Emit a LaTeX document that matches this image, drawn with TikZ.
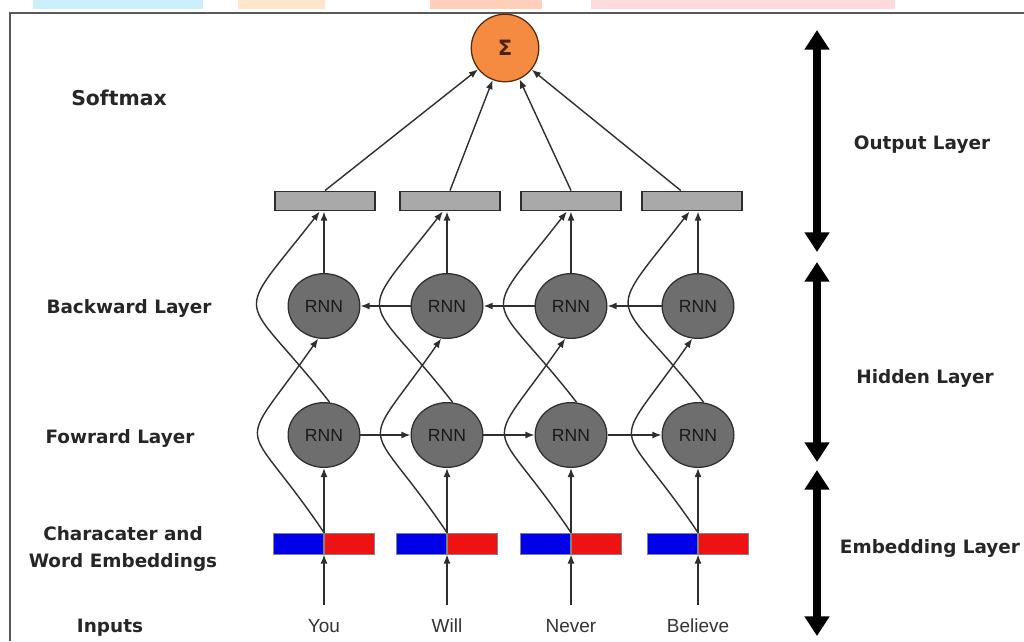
\documentclass[tikz,border=0pt]{standalone}
\usepackage{fontspec}
\setmainfont{Liberation Sans}
\newfontfamily\labelfont{DejaVu Sans}
\usetikzlibrary{shapes.geometric, arrows.meta}

\definecolor{rnngray}{HTML}{6E6E6E}
\definecolor{edgegray}{HTML}{2E2E2E}
\definecolor{hidgray}{HTML}{A9A9A9}
\definecolor{sigorange}{HTML}{F58B40}
\definecolor{sigedge}{HTML}{5A2A0C}
\definecolor{embblue}{HTML}{0000E8}
\definecolor{embred}{HTML}{EE1212}

\tikzset{
  rnn/.style={ellipse, draw=edgegray, fill=rnngray, line width=0.9pt, minimum width=51pt, minimum height=46pt, inner sep=0pt, font=\fontsize{12.5}{15}\selectfont, text=black!90},
  sig/.style={circle, draw=sigedge, fill=sigorange, line width=0.9pt, minimum size=48pt, inner sep=0pt, font=\labelfont\bfseries\fontsize{15}{18}\selectfont, text=sigedge!80!black},
  hid/.style={rectangle, draw=edgegray, fill=hidgray, line width=0.9pt, minimum width=71pt, minimum height=14pt, inner sep=0pt},
  emb/.style={rectangle, draw=edgegray!60, line width=0.5pt, minimum width=35.5pt, minimum height=15pt, inner sep=0pt},
  layer/.style={font=\labelfont\bfseries\fontsize{13.1}{19}\selectfont, text=black!85, align=center},
  word/.style={font=\fontsize{13.5}{16}\selectfont, text=black!80, anchor=base, text height=9.7pt, text depth=0pt, inner ysep=9pt},
  conn/.style={->, >={Latex[length=6.5pt, width=5pt]}, line width=1pt, draw=edgegray},
  span/.style={{Triangle[length=14pt, width=17pt]}-{Triangle[length=14pt, width=17pt]}, line width=5pt}
}

\begin{document}
\begin{tikzpicture}[x=0.025cm, y=0.025cm]
    \useasboundingbox (0,0) rectangle (1024,641);
    % Stray strips along the top edge
    \fill[cyan!20] (33,632) rectangle (203,641);
    \fill[orange!20] (238,632) rectangle (325,641);
    \fill[orange!25!pink!60] (430,632) rectangle (542,641);
    \fill[red!14] (591,632) rectangle (895,641);
    % Frame
    \draw[line width=1.4pt, black!65] (10,0) -- (10,628) -- (1024,628);
    % Softmax
    \node[sig] (s) at (505,593) {Σ};
    % Hidden outputs
    \node[hid] (h1) at (325,440) {};
    \node[hid] (h2) at (450,440) {};
    \node[hid] (h3) at (571,440) {};
    \node[hid] (h4) at (692,440) {};
    % Backward layer
    \node[rnn] (b1) at (324,335) {RNN};
    \node[rnn] (b2) at (447,335) {RNN};
    \node[rnn] (b3) at (571,335) {RNN};
    \node[rnn] (b4) at (698,335) {RNN};
    % Forward layer
    \node[rnn] (f1) at (324,206) {RNN};
    \node[rnn] (f2) at (447,206) {RNN};
    \node[rnn] (f3) at (571,206) {RNN};
    \node[rnn] (f4) at (698,206) {RNN};
    % Embeddings (character part, word part)
    \node[emb, fill=embblue, anchor=east] (ch1) at (324,97.5) {};
    \node[emb, fill=embred, anchor=west] (wd1) at (324,97.5) {};
    \node[emb, fill=embblue, anchor=east] (ch2) at (447,97.5) {};
    \node[emb, fill=embred, anchor=west] (wd2) at (447,97.5) {};
    \node[emb, fill=embblue, anchor=east] (ch3) at (571,97.5) {};
    \node[emb, fill=embred, anchor=west] (wd3) at (571,97.5) {};
    \node[emb, fill=embblue, anchor=east] (ch4) at (698,97.5) {};
    \node[emb, fill=embred, anchor=west] (wd4) at (698,97.5) {};
    % Inputs
    \node[word] (w1) at (324,9) {You};
    \node[word] (w2) at (447,9) {Will};
    \node[word] (w3) at (571,9) {Never};
    \node[word] (w4) at (698,9) {Believe};
    % Inputs to embeddings
    \draw[conn] (w1) -- (ch1.south east);
    \draw[conn] (w2) -- (ch2.south east);
    \draw[conn] (w3) -- (ch3.south east);
    \draw[conn] (w4) -- (ch4.south east);
    % Embeddings to forward layer
    \draw[conn] (ch1.north east) -- (f1);
    \draw[conn] (ch2.north east) -- (f2);
    \draw[conn] (ch3.north east) -- (f3);
    \draw[conn] (ch4.north east) -- (f4);
    % Embeddings to backward layer
    \draw[conn] (ch1.north east) to[out=124, in=235, looseness=1.95] (b1.-100);
    \draw[conn] (ch2.north east) to[out=124, in=235, looseness=1.95] (b2.-100);
    \draw[conn] (ch3.north east) to[out=124, in=235, looseness=1.95] (b3.-100);
    \draw[conn] (ch4.north east) to[out=124, in=235, looseness=1.95] (b4.-100);
    % Recurrences
    \draw[conn] (f1) -- (f2);
    \draw[conn] (f2) -- (f3);
    \draw[conn] (f3) -- (f4);
    \draw[conn] (b4) -- (b3);
    \draw[conn] (b3) -- (b2);
    \draw[conn] (b2) -- (b1);
    % Forward layer to hidden outputs
    \draw[conn] (f1.80) to[out=128, in=232, looseness=1.95] ([xshift=-3pt]b1 |- h1.south);
    \draw[conn] (f2.80) to[out=128, in=232, looseness=1.95] ([xshift=-3pt]b2 |- h2.south);
    \draw[conn] (f3.80) to[out=128, in=232, looseness=1.95] ([xshift=-3pt]b3 |- h3.south);
    \draw[conn] (f4.80) to[out=128, in=232, looseness=1.95] ([xshift=-6pt]b4 |- h4.south);
    % Backward layer to hidden outputs
    \draw[conn] (b1) -- (b1 |- h1.south);
    \draw[conn] (b2) -- (b2 |- h2.south);
    \draw[conn] (b3) -- (b3 |- h3.south);
    \draw[conn] (b4) -- (b4 |- h4.south);
    % Hidden outputs to softmax
    \draw[conn] (h1.north) -- (s);
    \draw[conn] (h2.north) -- (s);
    \draw[conn] (h3.north) -- (s);
    \draw[conn] ([xshift=-8pt]h4.north) -- (s);
    % Labels
    \node[layer, font=\labelfont\bfseries\fontsize{14.5}{17}\selectfont] (lsm) at (119,543) {Softmax};
    \node[layer] (lbw) at (129,333) {Backward Layer};
    \node[layer] (lfw) at (120,203) {Fowrard Layer};
    \node[layer] (lem) at (123,92) {Characater and\\Word Embeddings};
    \node[layer] (lin) at (110,13) {Inputs};
    % Layer spans
    \draw[span] (817,611) -- (817,389);
    \draw[span] (817,379) -- (817,179);
    \draw[span] (817,171) -- (817,5);
    \node[layer] (lout) at (922,496) {Output Layer};
    \node[layer] (lhid) at (925,263) {Hidden Layer};
    \node[layer] (lemb) at (930,93) {Embedding Layer};
\end{tikzpicture}
\end{document}
